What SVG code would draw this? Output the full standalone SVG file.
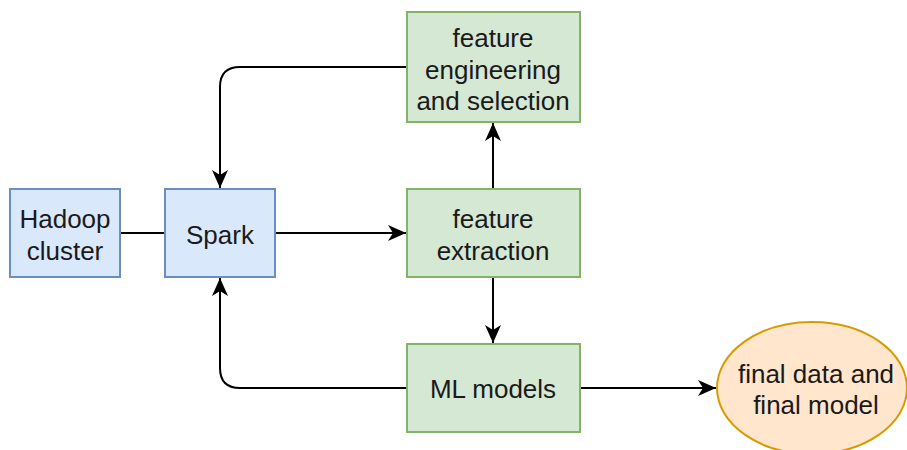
<svg xmlns="http://www.w3.org/2000/svg" width="907" height="450" viewBox="0 0 907 450">
<defs>
<marker id="arr" viewBox="0 0 18 18" refX="18" refY="9" markerWidth="18" markerHeight="18" markerUnits="userSpaceOnUse" orient="auto">
<path d="M0,1 L18,9 L0,17 L5,9 Z" fill="#000"/>
</marker>
<style>
.blue{fill:#dae8fc;stroke:#6c8ebf;stroke-width:2}
.green{fill:#d5e8d4;stroke:#82b366;stroke-width:2}
.orange{fill:#ffe6cc;stroke:#d79b00;stroke-width:2}
.t{font-family:"Liberation Sans",Arial,sans-serif;font-size:26px;fill:#1a1a1a;text-anchor:middle}
.e{fill:none;stroke:#000;stroke-width:2}
</style>
</defs>
<rect width="907" height="450" fill="#fff"/>
<g id="connectors">
<path class="e" d="M120,233 L165,233"/>
<path class="e" d="M275,233 L406,233" marker-end="url(#arr)"/>
<path class="e" d="M493,189 L493,123" marker-end="url(#arr)"/>
<path class="e" d="M493,277 L493,343" marker-end="url(#arr)"/>
<path class="e" d="M407,67 L240,67 Q220,67 220,87 L220,188" marker-end="url(#arr)"/>
<path class="e" d="M407,388 L240,388 Q220,388 220,368 L220,278" marker-end="url(#arr)"/>
<path class="e" d="M580,388 L716,388" marker-end="url(#arr)"/>
</g>
<g id="hadoop">
<rect class="blue" x="10" y="189" width="110" height="88"/>
<text class="t" x="65" y="228">Hadoop</text>
<text class="t" x="65" y="260">cluster</text>
</g>
<g id="spark">
<rect class="blue" x="165" y="189" width="110" height="88"/>
<text class="t" x="220" y="244">Spark</text>
</g>
<g id="feature-engineering">
<rect class="green" x="407" y="12" width="173" height="110"/>
<text class="t" x="493" y="47">feature</text>
<text class="t" x="493" y="79">engineering</text>
<text class="t" x="493" y="110">and selection</text>
</g>
<g id="feature-extraction">
<rect class="green" x="407" y="189" width="173" height="88"/>
<text class="t" x="493" y="228">feature</text>
<text class="t" x="493" y="260">extraction</text>
</g>
<g id="ml-models">
<rect class="green" x="407" y="344" width="173" height="88"/>
<text class="t" x="493" y="398">ML models</text>
</g>
<g id="final">
<ellipse class="orange" cx="812" cy="388" rx="95" ry="66"/>
<text class="t" x="816" y="383">final data and</text>
<text class="t" x="816" y="414">final model</text>
</g>
</svg>
